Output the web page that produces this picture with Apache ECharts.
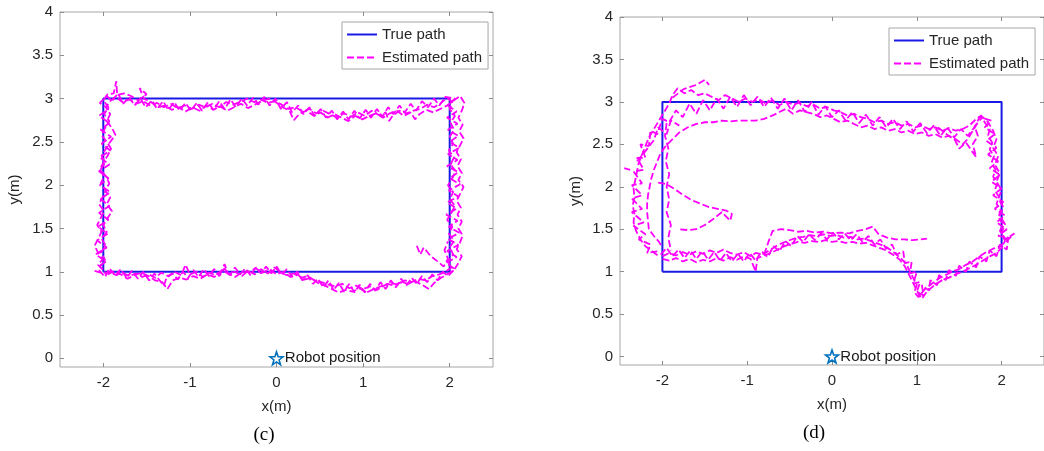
<!DOCTYPE html>
<html>
<head>
<meta charset="utf-8">
<script src="https://cdn.jsdelivr.net/npm/echarts@6/dist/echarts.min.js"></script>
<style>
html,body{margin:0;padding:0;background:#fff;}
#c{width:1044px;height:451px;}
</style>
</head>
<body>
<div id="c"></div>
<script>
// ---------- data ----------
const xTicks = [-2, -1, 0, 1, 2];
const yTicks = [0, 0.5, 1, 1.5, 2, 2.5, 3, 3.5, 4];
const legendNames = ['True path', 'Estimated path'];
const captions = ['(c)', '(d)'];
const robotLabel = 'Robot position';
const robotPos = [[0, 0]];
const truePath = [[-2, 1], [2, 1], [2, 3], [-2, 3], [-2, 1]];

// panel (c) estimated path, lap 1
const cLap1 = [[-2.1,1.01],[-2.0,0.98],[-1.92,1.0],[-1.85,0.96],[-1.78,0.99],[-1.7,0.95],[-1.62,0.98],[-1.55,0.94],[-1.47,0.97],[-1.4,0.93],[-1.33,0.99],[-1.25,0.95],[-1.18,1.0],[-1.1,0.96],[-1.05,1.08],[-1.0,0.97],[-0.92,1.0],[-0.85,0.94],[-0.78,0.99],[-0.7,0.96],[-0.63,1.02],[-0.55,0.97],[-0.48,1.0],[-0.4,0.95],[-0.33,1.01],[-0.25,0.97],[-0.18,1.03],[-0.1,0.98],[-0.02,1.05],[0.05,0.99],[0.12,0.96],[0.2,0.98],[0.28,0.93],[0.36,0.95],[0.44,0.9],[0.52,0.88],[0.6,0.85],[0.68,0.83],[0.76,0.86],[0.84,0.81],[0.92,0.84],[1.0,0.8],[1.08,0.83],[1.16,0.79],[1.24,0.84],[1.32,0.87],[1.4,0.85],[1.48,0.9],[1.56,0.88],[1.64,0.92],[1.72,0.9],[1.8,0.95],[1.88,0.97],[1.95,1.0],
[2.02,1.05],[1.98,1.12],[2.04,1.2],[2.0,1.28],[2.05,1.36],[1.99,1.44],[2.03,1.52],[1.97,1.6],[2.02,1.68],[2.06,1.76],[2.0,1.84],[2.04,1.92],[1.98,2.0],[2.03,2.08],[2.07,2.16],[2.01,2.24],[2.05,2.32],[1.99,2.4],[2.04,2.48],[2.0,2.56],[2.05,2.64],[2.01,2.72],[2.06,2.8],[2.0,2.88],[2.03,2.96],[1.97,3.01],
[1.9,2.95],[1.82,2.9],[1.74,2.93],[1.66,2.88],[1.58,2.86],[1.5,2.83],[1.42,2.86],[1.34,2.8],[1.3,2.74],[1.26,2.84],[1.18,2.81],[1.1,2.86],[1.02,2.8],[0.94,2.84],[0.86,2.79],[0.78,2.83],[0.7,2.78],[0.62,2.82],[0.54,2.86],[0.46,2.83],[0.38,2.88],[0.3,2.85],[0.22,2.9],[0.14,2.88],[0.06,2.93],[-0.02,2.97],[-0.1,2.95],[-0.18,2.99],[-0.26,2.96],[-0.34,3.0],[-0.42,2.96],[-0.5,2.93],[-0.58,2.96],[-0.66,2.9],[-0.74,2.94],[-0.82,2.9],[-0.9,2.93],[-0.98,2.88],[-1.06,2.92],[-1.14,2.89],[-1.22,2.94],[-1.3,2.9],[-1.38,2.95],[-1.46,2.92],[-1.54,2.97],[-1.62,2.94],[-1.7,2.99],[-1.78,2.96],[-1.86,3.02],[-1.92,2.97],
[-1.97,2.9],[-1.92,2.82],[-1.96,2.74],[-1.9,2.66],[-1.86,2.58],[-1.92,2.5],[-1.97,2.42],[-2.02,2.34],[-1.98,2.26],[-2.03,2.18],[-1.97,2.1],[-1.93,2.02],[-1.98,1.94],[-1.92,1.86],[-1.96,1.78],[-1.9,1.7],[-1.95,1.62],[-2.0,1.54],[-1.96,1.46],[-2.02,1.38],[-1.97,1.3],[-2.03,1.22],[-1.98,1.14],[-2.04,1.06],[-1.98,1.0]];

// panel (c) estimated path, lap 2
const cLap2 = [[-1.95,0.97],[-1.87,1.01],[-1.8,0.97],[-1.72,0.92],[-1.64,0.96],[-1.56,0.99],[-1.48,0.95],[-1.4,0.9],[-1.32,0.88],[-1.26,0.8],[-1.2,0.9],[-1.12,0.93],[-1.04,0.91],[-0.96,0.95],[-0.88,0.92],[-0.8,0.97],[-0.72,0.94],[-0.64,0.99],[-0.6,1.09],[-0.56,0.98],[-0.48,0.94],[-0.4,0.99],[-0.32,1.0],[-0.24,1.04],[-0.16,0.99],[-0.08,1.03],[0.0,0.97],[0.08,1.0],[0.16,0.94],[0.24,0.97],[0.32,0.91],[0.4,0.93],[0.48,0.87],[0.56,0.84],[0.64,0.8],[0.72,0.76],[0.8,0.79],[0.88,0.77],[0.96,0.81],[1.04,0.76],[1.12,0.8],[1.2,0.83],[1.28,0.86],[1.36,0.84],[1.44,0.88],[1.52,0.86],[1.6,0.89],[1.68,0.85],[1.76,0.8],[1.82,0.87],[1.9,0.93],[1.97,0.97],[2.05,1.02],
[2.1,1.1],[2.14,1.18],[2.08,1.26],[2.12,1.34],[2.15,1.42],[2.1,1.5],[2.14,1.58],[2.09,1.66],[2.13,1.74],[2.08,1.82],[2.12,1.9],[2.16,1.98],[2.1,2.06],[2.14,2.14],[2.09,2.22],[2.13,2.3],[2.08,2.38],[2.12,2.46],[2.16,2.54],[2.11,2.62],[2.15,2.7],[2.1,2.78],[2.14,2.86],[2.17,2.95],[2.12,3.03],[2.05,2.98],
[1.97,2.92],[1.89,2.88],[1.81,2.84],[1.73,2.87],[1.65,2.82],[1.6,2.76],[1.55,2.84],[1.47,2.8],[1.39,2.86],[1.31,2.83],[1.23,2.78],[1.15,2.83],[1.07,2.8],[0.99,2.76],[0.91,2.8],[0.83,2.74],[0.75,2.78],[0.67,2.82],[0.59,2.78],[0.51,2.84],[0.43,2.8],[0.35,2.86],[0.27,2.83],[0.2,2.75],[0.15,2.86],[0.07,2.9],[-0.01,2.96],[-0.09,3.0],[-0.17,2.97],[-0.25,2.93],[-0.33,2.89],[-0.41,2.94],[-0.49,2.9],[-0.57,2.86],[-0.65,2.91],[-0.73,2.87],[-0.81,2.92],[-0.89,2.86],[-0.97,2.9],[-1.05,2.85],[-1.13,2.9],[-1.21,2.87],[-1.29,2.92],[-1.37,2.9],[-1.45,2.96],[-1.53,3.0],[-1.58,3.12],[-1.5,3.05],[-1.6,2.98],[-1.68,3.03],[-1.76,3.06],[-1.84,3.04],[-1.85,3.2],[-1.88,3.06],[-1.95,3.05],[-2.0,2.98],
[-1.94,2.9],[-1.99,2.82],[-1.93,2.74],[-1.98,2.66],[-2.02,2.58],[-1.96,2.5],[-1.91,2.42],[-1.95,2.34],[-2.0,2.26],[-2.04,2.18],[-1.99,2.1],[-2.03,2.02],[-1.97,1.94],[-2.01,1.86],[-2.05,1.78],[-1.99,1.7],[-2.03,1.62],[-2.07,1.54],[-2.02,1.46],[-2.06,1.38],[-2.1,1.3],[-2.06,1.22],[-2.01,1.14],[-2.06,1.08],[-2.0,1.02]];

// panel (c) estimated path, lap 3 (noisier)
const cLap3 = [[-2.05,1.02],[-1.98,0.94],[-1.93,1.04],[-1.86,0.95],[-1.8,1.03],[-1.73,0.93],[-1.67,1.01],[-1.6,0.92],[-1.54,1.0],[-1.47,0.9],[-1.41,0.98],[-1.35,0.9],[-1.3,0.84],[-1.27,0.93],[-1.2,0.98],[-1.14,0.91],[-1.08,1.0],[-1.02,0.93],[-0.96,1.02],[-0.9,0.94],[-0.84,1.03],[-0.78,0.95],[-0.72,1.03],[-0.66,0.95],[-0.6,1.04],[-0.54,0.96],[-0.48,1.05],[-0.42,0.97],[-0.36,1.04],[-0.3,0.96],[-0.24,1.05],[-0.18,0.98],[-0.12,1.06],[-0.06,0.98],[0.0,1.06],[0.06,0.97],[0.12,1.03],[0.18,0.94],[0.24,1.0],[0.3,0.9],[0.36,0.96],[0.42,0.86],[0.48,0.92],[0.54,0.82],[0.6,0.9],[0.66,0.79],[0.72,0.87],[0.78,0.77],[0.84,0.86],[0.9,0.76],[0.96,0.85],[1.02,0.76],[1.08,0.86],[1.14,0.78],[1.2,0.88],[1.26,0.8],[1.32,0.9],[1.38,0.82],[1.44,0.92],[1.5,0.84],[1.56,0.93],[1.62,0.86],[1.68,0.95],[1.74,0.88],[1.8,0.97],[1.86,0.9],[1.92,1.0],[1.98,0.95],
[2.06,1.03],[1.96,1.1],[2.08,1.17],[1.97,1.24],[2.1,1.31],[1.98,1.38],[2.11,1.45],[1.99,1.52],[2.09,1.59],[1.96,1.66],[2.08,1.73],[1.97,1.8],[2.1,1.87],[1.99,1.94],[2.12,2.01],[2.0,2.08],[2.1,2.15],[1.97,2.22],[2.09,2.29],[1.98,2.36],[2.11,2.43],[2.0,2.5],[2.1,2.57],[1.98,2.64],[2.09,2.71],[1.97,2.78],[2.08,2.85],[1.98,2.92],[2.06,3.0],
[1.95,3.02],[1.88,2.92],[1.82,3.0],[1.75,2.9],[1.68,2.97],[1.61,2.86],[1.55,2.94],[1.48,2.84],[1.42,2.92],[1.35,2.82],[1.29,2.9],[1.22,2.79],[1.16,2.88],[1.09,2.78],[1.03,2.87],[0.96,2.77],[0.9,2.86],[0.83,2.76],[0.77,2.85],[0.7,2.76],[0.64,2.86],[0.57,2.78],[0.51,2.88],[0.44,2.8],[0.38,2.9],[0.31,2.82],[0.25,2.92],[0.18,2.84],[0.12,2.96],[0.05,2.88],[-0.01,3.0],[-0.08,2.92],[-0.14,3.02],[-0.21,2.93],[-0.27,3.01],[-0.34,2.92],[-0.4,3.0],[-0.47,2.9],[-0.53,2.99],[-0.6,2.88],[-0.66,2.97],[-0.73,2.87],[-0.79,2.96],[-0.86,2.86],[-0.92,2.95],[-0.99,2.86],[-1.05,2.95],[-1.12,2.86],[-1.18,2.96],[-1.25,2.87],[-1.31,2.97],[-1.38,2.88],[-1.44,2.98],[-1.51,2.9],[-1.57,3.0],[-1.64,2.92],[-1.7,3.02],[-1.77,2.94],[-1.83,3.06],[-1.9,2.97],[-1.96,3.03],
[-2.04,2.95],[-1.94,2.88],[-2.05,2.8],[-1.93,2.72],[-2.03,2.64],[-1.91,2.56],[-2.02,2.48],[-1.92,2.4],[-2.04,2.32],[-1.93,2.24],[-2.05,2.16],[-1.94,2.08],[-2.04,2.0],[-1.92,1.92],[-2.03,1.84],[-1.93,1.76],[-2.05,1.68],[-1.94,1.6],[-2.06,1.52],[-1.95,1.44],[-2.07,1.36],[-1.96,1.28],[-2.09,1.2],[-1.97,1.12],[-2.06,1.05]];

// panel (c) stray wander near bottom-right corner
const cStray = [[1.62,1.3],[1.66,1.2],[1.7,1.28],[1.78,1.18],[1.86,1.12],[1.93,1.06],[1.98,1.15],[1.94,1.25],[1.98,1.35]];

// panel (d) estimated path, lap 1
const dLap1 = [[-2.0,1.18],[-1.92,1.22],[-1.84,1.19],[-1.76,1.23],[-1.68,1.2],[-1.6,1.24],[-1.52,1.21],[-1.44,1.25],[-1.36,1.22],[-1.28,1.26],[-1.2,1.22],[-1.12,1.2],[-1.04,1.23],[-0.96,1.18],[-0.9,1.22],[-0.82,1.2],[-0.74,1.25],[-0.66,1.3],[-0.58,1.34],[-0.5,1.37],[-0.42,1.4],[-0.34,1.41],[-0.26,1.43],[-0.18,1.42],[-0.1,1.44],[-0.02,1.42],[0.06,1.43],[0.14,1.4],[0.22,1.41],[0.3,1.38],[0.38,1.39],[0.46,1.36],[0.54,1.33],[0.62,1.3],[0.7,1.25],[0.76,1.2],[0.82,1.15],[0.88,1.08],[0.92,1.0],[0.96,0.92],[1.0,0.84],[0.97,0.76],[1.02,0.7],[1.06,0.75],[1.1,0.8],[1.18,0.86],[1.26,0.92],[1.34,0.96],[1.42,1.0],[1.5,1.03],[1.58,1.08],[1.66,1.12],[1.74,1.18],[1.82,1.23],[1.9,1.27],[1.98,1.3],[2.06,1.36],[2.15,1.45],
[2.05,1.38],[1.98,1.48],[2.02,1.56],[1.96,1.64],[1.99,1.72],[1.94,1.8],[1.97,1.88],[1.92,1.96],[1.95,2.04],[1.9,2.12],[1.93,2.2],[1.88,2.28],[1.91,2.36],[1.86,2.44],[1.89,2.52],[1.84,2.6],[1.86,2.68],[1.8,2.76],[1.76,2.84],[1.7,2.8],
[1.62,2.72],[1.54,2.68],[1.46,2.66],[1.38,2.69],[1.3,2.66],[1.22,2.7],[1.14,2.68],[1.06,2.72],[0.98,2.7],[0.9,2.74],[0.82,2.72],[0.74,2.76],[0.66,2.74],[0.58,2.78],[0.5,2.76],[0.42,2.8],[0.34,2.82],[0.26,2.86],[0.18,2.84],[0.1,2.88],[0.02,2.9],[-0.06,2.94],[-0.14,2.92],[-0.22,2.97],[-0.3,2.95],[-0.38,2.99],[-0.46,2.97],[-0.54,3.0],[-0.62,2.96],[-0.7,3.02],[-0.78,2.98],[-0.86,3.03],[-0.94,3.0],[-1.02,3.04],[-1.1,3.0],[-1.18,3.04],[-1.26,3.08],[-1.34,3.02],[-1.42,3.06],[-1.5,3.1],[-1.58,3.08],[-1.66,3.14],[-1.74,3.1],[-1.82,3.16],[-1.88,3.08],[-1.92,2.98],
[-1.98,2.88],[-2.04,2.78],[-2.1,2.68],[-2.16,2.58],[-2.2,2.48],[-2.24,2.38],[-2.28,2.28],[-2.3,2.18],[-2.32,2.08],[-2.34,1.98],[-2.33,1.88],[-2.35,1.78],[-2.33,1.68],[-2.34,1.58],[-2.31,1.48],[-2.26,1.38],[-2.2,1.3],[-2.12,1.24],[-2.04,1.18]];

// panel (d) estimated path, lap 2
const dLap2 = [[-2.0,1.15],[-1.92,1.13],[-1.84,1.16],[-1.76,1.12],[-1.68,1.15],[-1.6,1.11],[-1.52,1.14],[-1.44,1.12],[-1.36,1.16],[-1.28,1.13],[-1.2,1.17],[-1.12,1.14],[-1.04,1.18],[-0.96,1.15],[-0.9,1.0],[-0.88,1.16],[-0.8,1.19],[-0.72,1.22],[-0.64,1.26],[-0.56,1.3],[-0.48,1.33],[-0.4,1.35],[-0.32,1.34],[-0.24,1.36],[-0.16,1.35],[-0.08,1.37],[0.0,1.35],[0.08,1.36],[0.16,1.34],[0.24,1.35],[0.32,1.33],[0.4,1.34],[0.48,1.31],[0.56,1.28],[0.64,1.25],[0.72,1.2],[0.8,1.14],[0.86,1.06],[0.9,0.98],[0.94,0.9],[0.98,0.82],[1.02,0.74],[1.06,0.68],[1.1,0.74],[1.16,0.8],[1.22,0.85],[1.3,0.9],[1.38,0.93],[1.46,0.97],[1.54,1.0],[1.62,1.04],[1.7,1.08],[1.78,1.13],[1.86,1.18],[1.94,1.22],[2.0,1.28],[2.04,1.36],
[2.0,1.46],[2.04,1.56],[1.98,1.66],[2.02,1.76],[1.96,1.86],[2.0,1.96],[1.94,2.06],[1.98,2.16],[1.92,2.26],[1.96,2.36],[1.9,2.46],[1.94,2.56],[1.9,2.66],[1.84,2.76],[1.78,2.82],[1.72,2.76],[1.66,2.66],[1.6,2.56],[1.54,2.5],
[1.46,2.56],[1.38,2.6],[1.3,2.58],[1.22,2.62],[1.14,2.6],[1.06,2.64],[0.98,2.62],[0.9,2.66],[0.82,2.64],[0.74,2.68],[0.66,2.66],[0.58,2.7],[0.5,2.68],[0.42,2.72],[0.34,2.7],[0.26,2.74],[0.18,2.78],[0.1,2.76],[0.02,2.8],[-0.06,2.84],[-0.14,2.82],[-0.22,2.86],[-0.3,2.88],[-0.38,2.9],[-0.46,2.86],[-0.54,2.92],[-0.62,2.88],[-0.7,2.84],[-0.8,2.8],[-0.9,2.78],[-1.0,2.78],[-1.1,2.78],[-1.2,2.77],[-1.3,2.78],[-1.4,2.76],[-1.5,2.76],[-1.6,2.74],[-1.7,2.7],[-1.8,2.64],[-1.88,2.56],[-1.96,2.48],[-2.02,2.4],
[-2.06,2.3],[-2.1,2.2],[-2.13,2.1],[-2.15,2.0],[-2.17,1.9],[-2.18,1.8],[-2.18,1.7],[-2.17,1.6],[-2.16,1.5],[-2.1,1.42],[-2.04,1.35],[-2.0,1.28]];

// panel (d) estimated path, lap 3 (noisier)
const dLap3 = [[-2.02,1.2],[-1.95,1.28],[-1.88,1.18],[-1.81,1.26],[-1.74,1.16],[-1.67,1.25],[-1.6,1.15],[-1.53,1.24],[-1.46,1.14],[-1.39,1.23],[-1.32,1.13],[-1.25,1.22],[-1.18,1.12],[-1.11,1.21],[-1.04,1.12],[-0.97,1.22],[-0.9,1.13],[-0.83,1.24],[-0.76,1.17],[-0.69,1.3],[-0.62,1.24],[-0.55,1.36],[-0.48,1.3],[-0.41,1.42],[-0.34,1.35],[-0.27,1.44],[-0.2,1.37],[-0.13,1.45],[-0.06,1.38],[0.01,1.46],[0.08,1.38],[0.15,1.45],[0.22,1.37],[0.29,1.44],[0.36,1.35],[0.43,1.42],[0.5,1.32],[0.57,1.38],[0.64,1.27],[0.71,1.32],[0.76,1.2],[0.84,1.24],[0.86,1.1],[0.94,1.12],[0.92,0.98],[1.0,1.0],[0.96,0.86],[1.04,0.88],[1.0,0.76],[1.08,0.72],[1.06,0.84],[1.14,0.78],[1.16,0.9],[1.24,0.84],[1.26,0.96],[1.34,0.9],[1.38,1.02],[1.46,0.95],[1.5,1.07],[1.58,1.0],[1.62,1.12],[1.7,1.05],[1.74,1.18],[1.82,1.12],[1.86,1.25],[1.94,1.18],[1.98,1.32],[2.06,1.26],[2.08,1.4],
[1.96,1.42],[2.06,1.5],[1.94,1.58],[2.04,1.66],[1.92,1.74],[2.02,1.82],[1.9,1.9],[2.0,1.98],[1.88,2.06],[1.98,2.14],[1.86,2.22],[1.96,2.3],[1.84,2.38],[1.94,2.46],[1.82,2.54],[1.92,2.62],[1.8,2.7],[1.88,2.78],[1.74,2.82],
[1.68,2.7],[1.6,2.6],[1.52,2.68],[1.44,2.58],[1.36,2.7],[1.28,2.6],[1.2,2.72],[1.12,2.63],[1.04,2.75],[0.96,2.65],[0.88,2.77],[0.8,2.68],[0.72,2.8],[0.64,2.7],[0.56,2.82],[0.48,2.72],[0.4,2.85],[0.32,2.75],[0.24,2.88],[0.16,2.78],[0.08,2.9],[0.0,2.82],[-0.08,2.95],[-0.16,2.85],[-0.24,3.0],[-0.32,2.88],[-0.4,3.02],[-0.48,2.9],[-0.56,3.04],[-0.64,2.92],[-0.72,3.05],[-0.8,2.94],[-0.88,3.06],[-0.96,2.96],[-1.04,3.08],[-1.12,2.94],[-1.2,3.06],[-1.28,2.92],[-1.36,3.04],[-1.44,2.9],[-1.52,3.02],[-1.6,2.86],[-1.68,2.98],[-1.76,2.82],[-1.84,2.9],
[-1.92,2.76],[-2.0,2.8],[-2.06,2.62],[-2.14,2.66],[-2.16,2.48],[-2.26,2.5],[-2.2,2.34],[-2.3,2.34],[-2.22,2.2],[-2.34,2.18],[-2.24,2.04],[-2.36,2.02],[-2.24,1.9],[-2.36,1.86],[-2.24,1.74],[-2.36,1.7],[-2.22,1.58],[-2.34,1.54],[-2.2,1.44],[-2.28,1.38],[-2.14,1.32],[-2.18,1.22],[-2.06,1.24]];

// panel (d) inner tail from left side
const dTail = [[-2.05,2.05],[-1.95,2.03],[-1.85,1.97],[-1.75,1.9],[-1.65,1.84],[-1.55,1.8],[-1.45,1.76],[-1.35,1.74],[-1.25,1.72],[-1.18,1.68],[-1.2,1.6],[-1.3,1.7],[-1.4,1.62],[-1.5,1.55],[-1.6,1.5],[-1.7,1.49],[-1.8,1.5]];
// panel (d) upper bottom lane
const dUpper = [[-0.8,1.2],[-0.75,1.35],[-0.7,1.48],[-0.6,1.5],[-0.5,1.49],[-0.4,1.47],[-0.3,1.48],[-0.2,1.46],[-0.1,1.47],[0.0,1.45],[0.1,1.46],[0.2,1.45],[0.3,1.48],[0.4,1.5],[0.48,1.53],[0.55,1.44],[0.65,1.4],[0.75,1.38],[0.85,1.38],[0.95,1.37],[1.05,1.38],[1.12,1.39]];
// panel (d) left side extra lane
const dLeft = [[-1.95,2.75],[-1.97,2.6],[-1.93,2.45],[-1.96,2.3],[-1.92,2.15],[-1.95,2.0],[-1.92,1.85],[-1.95,1.7],[-1.9,1.55],[-1.93,1.4],[-1.9,1.25]];
// panel (d) top-left spikes and stray
const dSpike = [[-1.88,3.05],[-1.75,3.15],[-1.6,3.2],[-1.5,3.26],[-1.45,3.2]];
const dStray = [[-2.45,2.22],[-2.38,2.2]];
// panel (d) tangles near upper corners
const dTangleR = [[1.25,2.7],[1.35,2.62],[1.45,2.55],[1.5,2.45],[1.58,2.52],[1.65,2.42],[1.7,2.35],[1.66,2.5],[1.72,2.6],[1.68,2.72]];
const dTangleL = [[-2.3,2.3],[-2.2,2.42],[-2.1,2.55],[-2.05,2.7],[-1.95,2.62],[-1.9,2.78],[-1.8,2.72]];

const cSegments = [cLap1, cLap2, cLap3, cStray];
const dSegments = [dLap1, dLap2, dLap3, dTail, dUpper, dLeft, dSpike, dStray, dTangleR, dTangleL];

// ---------- chart ----------
const FONT = '"Liberation Sans", Arial, Helvetica, sans-serif';
const TXT = '#262626';
const BLUE = '#1a1ae6';
const MAG = '#ff00ff';
const TICK = '#8c8c8c';
const STAR = 'path://M0,-10 L2.35,-3.24 L9.51,-3.09 L3.8,1.24 L5.88,8.09 L0,4 L-5.88,8.09 L-3.8,1.24 L-9.51,-3.09 L-2.35,-3.24 Z';

const grids = [
  {left: 60, top: 12, width: 433, height: 355},
  {left: 620, top: 17, width: 425, height: 348}
];

function xAxes(gi) {
  const base = {gridIndex: gi, type: 'value', min: -2.5, max: 2.5,
    splitLine: {show: false}, axisLine: {show: false, onZero: false}};
  return [
    Object.assign({}, base, {position: 'bottom', name: 'x(m)', nameLocation: 'middle', nameGap: 32,
      nameTextStyle: {fontFamily: FONT, fontSize: 15, color: TXT},
      axisTick: {inside: true, length: 4, lineStyle: {color: TICK}, customValues: xTicks},
      axisLabel: {margin: 8, fontFamily: FONT, fontSize: 15, color: TXT, customValues: xTicks}}),
    Object.assign({}, base, {position: 'top',
      axisTick: {inside: true, length: 4, lineStyle: {color: TICK}, customValues: xTicks},
      axisLabel: {show: false}})
  ];
}
function yAxes(gi, gap, margin) {
  const base = {gridIndex: gi, type: 'value', min: -0.1, max: 4,
    splitLine: {show: false}, axisLine: {show: false, onZero: false}};
  return [
    Object.assign({}, base, {position: 'left', name: 'y(m)', nameLocation: 'middle', nameGap: gap,
      nameTextStyle: {fontFamily: FONT, fontSize: 15, color: TXT},
      axisTick: {inside: true, length: 4, lineStyle: {color: TICK}, customValues: yTicks},
      axisLabel: {margin: margin, fontFamily: FONT, fontSize: 15, color: TXT, customValues: yTicks}}),
    Object.assign({}, base, {position: 'right',
      axisTick: {inside: true, length: 4, lineStyle: {color: TICK}, customValues: yTicks},
      axisLabel: {show: false}})
  ];
}

const series = [];
function addPanel(gi, segs) {
  const xi = gi * 2, yi = gi * 2;
  series.push({name: legendNames[0], type: 'line', xAxisIndex: xi, yAxisIndex: yi,
    data: truePath, symbol: 'none', lineStyle: {color: BLUE, width: 2}, itemStyle: {color: BLUE},
    animation: false, z: 2});
  segs.forEach(s => series.push({name: legendNames[1], type: 'line', xAxisIndex: xi, yAxisIndex: yi,
    data: s, symbol: 'none', lineStyle: {color: MAG, width: 1.8, type: [7, 3]}, itemStyle: {color: MAG},
    animation: false, z: 3}));
  series.push({name: robotLabel, type: 'scatter', xAxisIndex: xi, yAxisIndex: yi, data: robotPos,
    symbol: STAR, symbolSize: 13,
    itemStyle: {color: 'rgba(0,0,0,0)', borderColor: '#0072BD', borderWidth: 1.6, opacity: 1},
    label: {show: true, position: 'right', distance: 1, formatter: robotLabel,
      fontFamily: FONT, fontSize: 15, color: '#1a1a1a'},
    animation: false, z: 4});
}
addPanel(0, cSegments);
addPanel(1, dSegments);

function legendAt(left, top) {
  return {data: legendNames, left: left, top: top, orient: 'vertical', itemGap: 8,
    itemWidth: 30, itemHeight: 14, backgroundColor: '#fff', borderColor: '#a6a6a6', borderWidth: 1,
    padding: [5, 6, 4, 4], selectedMode: false,
    itemStyle: {opacity: 0},
    textStyle: {fontFamily: FONT, fontSize: 15, color: TXT}};
}

const option = {
  backgroundColor: '#fff',
  animation: false,
  grid: grids.map(g => Object.assign({show: true, borderColor: '#a6a6a6', borderWidth: 1, backgroundColor: '#fff'}, g)),
  xAxis: [...xAxes(0), ...xAxes(1)],
  yAxis: [...yAxes(0, 38, 7), ...yAxes(1, 37, 7)],
  legend: [legendAt(342, 22), legendAt(889, 28)],
  series: series,
  graphic: [
    {type: 'text', x: 264, y: 435, style: {text: captions[0], font: '19px "Liberation Serif", "Times New Roman", serif', fill: '#000', textAlign: 'center', textVerticalAlign: 'middle'}},
    {type: 'text', x: 814, y: 433, style: {text: captions[1], font: '19px "Liberation Serif", "Times New Roman", serif', fill: '#000', textAlign: 'center', textVerticalAlign: 'middle'}}
  ]
};

const chart = echarts.init(document.getElementById('c'), null, {renderer: 'canvas'});
chart.setOption(option);
</script>
</body>
</html>
